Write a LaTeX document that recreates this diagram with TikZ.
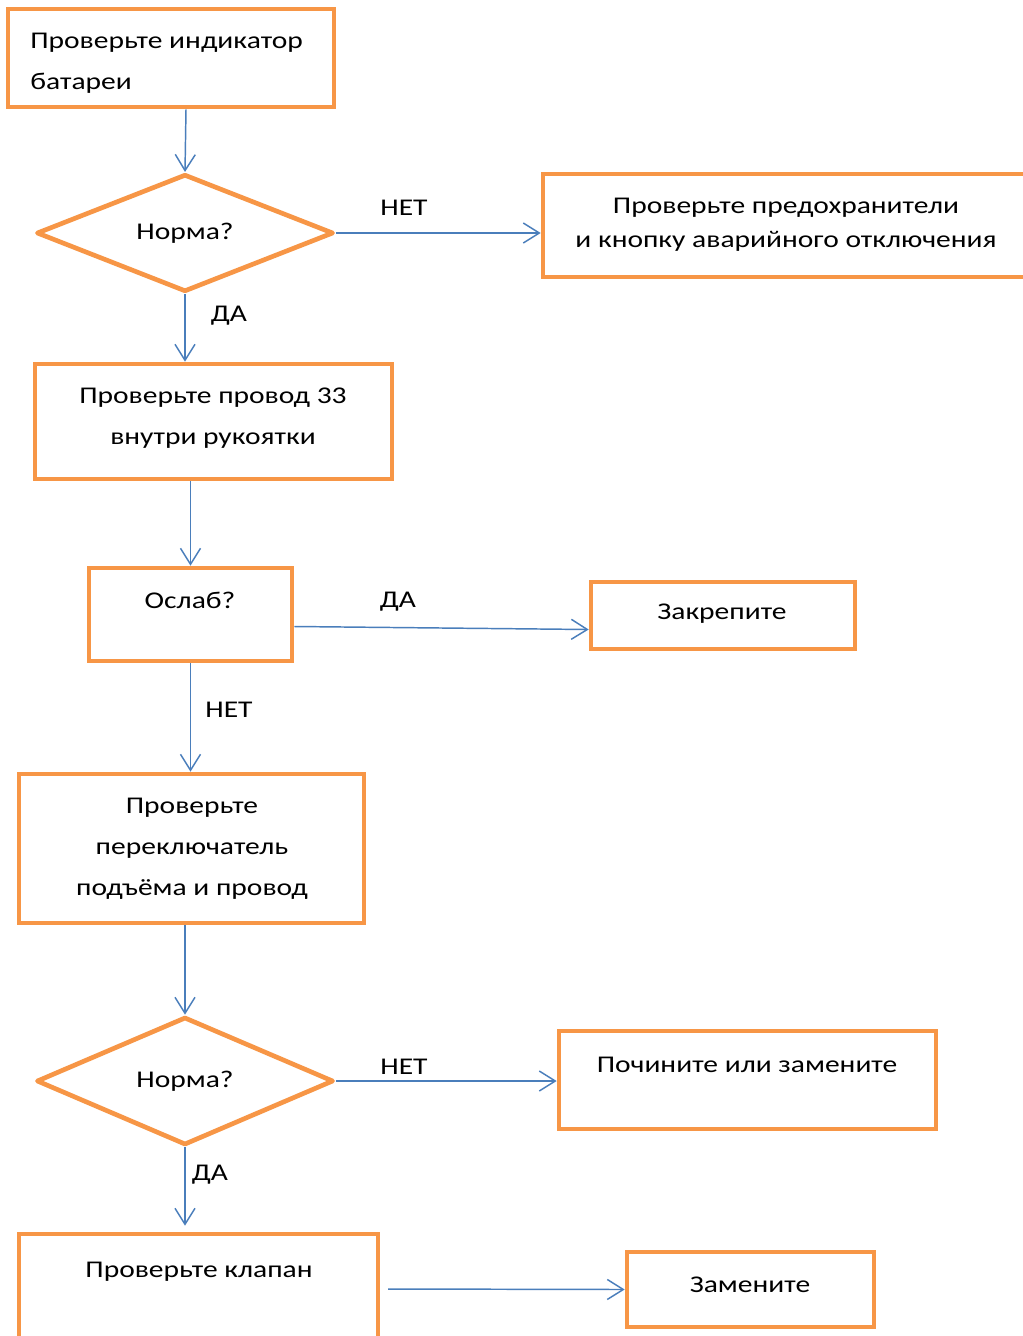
\documentclass[tikz,border=0pt]{standalone}
\usepackage{fontspec}
\setmainfont{Carlito}[FakeStretch=1.23]
\usetikzlibrary{shapes.geometric,arrows.meta}
\definecolor{orng}{HTML}{F79646}
\definecolor{blu}{HTML}{4A7EBB}
\newcommand\fsz{\fontsize{18}{30.75}\selectfont}
\tikzset{
  box/.style 2 args={draw=orng, line width=3.5pt, inner sep=0pt, rectangle,
    minimum width=#1*0.75pt, minimum height=#2*0.75pt},
  dia/.style 2 args={draw=orng, line width=3.5pt, inner sep=0pt, diamond, line join=round,
    minimum width=#1*0.75pt, minimum height=#2*0.75pt, font=\fsz},
  txt/.style={font=\fsz, inner sep=0pt, align=center},
  lbl/.style={font=\fsz, inner sep=0pt},
  arr/.style={draw=blu, line width=1.1pt, -{Straight Barb[length=12pt,width=15pt,line width=1.1pt]}},
}
\begin{document}
\begin{tikzpicture}[x=0.75pt,y=-0.75pt]
\useasboundingbox (0,0) rectangle (1023,1336);
\clip (0,0) rectangle (1023,1336);
\fill[white] (0,0) rectangle (1023,1336);
% boxes
\node[box={326}{98}] (b1) at (171,58) {};
\node[box={497}{103}] (b2) at (791.5,225.5) {};
\node[dia={297}{116}] (d1) at (185,233) {Норма?};
\node[box={357}{115}] (b3) at (213.5,421.5) {};
\node[box={203}{93}] (b4) at (190.5,614.5) {};
\node[box={264}{67}] (b5) at (723,615.5) {};
\node[box={345}{149}] (b6) at (191.5,848.5) {};
\node[dia={297}{128}] (d2) at (185,1081) {Норма?};
\node[box={377}{98}] (b7) at (747.5,1080) {};
\node[box={359}{126}] (b8) at (198.5,1297) {};
\node[box={247}{75}] (b9) at (750.5,1289.5) {};
% texts
\node[txt, align=left, anchor=west] (t1) at (30,63) {Проверьте индикатор\\батареи};
\node[txt, font=\fontsize{18}{25.5}\selectfont] (t2) at (786,225) {Проверьте предохранители\\и кнопку аварийного отключения};
\node[txt] (t3) at (213,418) {Проверьте провод 33\\внутри рукоятки};
\node[txt] (t4) at (190,600) {Ослаб?};
\node[txt] (t5) at (722,614) {Закрепите};
\node[txt] (t6) at (192,849) {Проверьте\\переключатель\\подъёма и провод};
\node[txt] (t7) at (747,1065) {Почините или замените};
\node[txt] (t8) at (199,1272) {Проверьте клапан};
\node[txt] (t9) at (750,1285) {Замените};
% labels
\node[lbl] (l1) at (404,208) {НЕТ};
\node[lbl] (l2) at (229,316) {ДА};
\node[lbl] (l3) at (398,602) {ДА};
\node[lbl] (l4) at (229,710) {НЕТ};
\node[lbl] (l5) at (404,1067) {НЕТ};
\node[lbl] (l6) at (210,1175) {ДА};
% connectors
\coordinate (b8top) at ([yshift=4.5pt]b8.north);
\coordinate (fs) at (388,1289);
\draw[arr] ([xshift=11.25pt]b1.south) -- (d1.north);
\draw[arr] (d1.east) -- (d1.east -| b2.west);
\draw[arr] (d1.south) -- (d1.south |- b3.north);
\draw[arr] (b4.north |- b3.south) -- (b4.north);
\draw[arr] ([yshift=-9pt]b4.east) -- ([yshift=-10.5pt]b5.west);
\draw[arr] (b4.south) -- (b4.south |- b6.north);
\draw[arr] (d2.north |- b6.south) -- (d2.north);
\draw[arr] (d2.east) -- (d2.east -| b7.west);
\draw[arr] (d2.south) -- (d2.south |- b8top);
\draw[arr] (fs) -- (b9.west);
\end{tikzpicture}
\end{document}
